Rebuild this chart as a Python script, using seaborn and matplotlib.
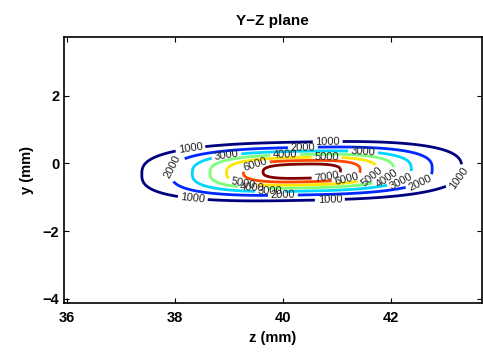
import numpy as np
import matplotlib
matplotlib.use("Agg")
import matplotlib.pyplot as plt
import seaborn as sns

# ---- values ----
levels = [1000, 2000, 3000, 4000, 5000, 6000, 7000]
peak_value = 7900.0          # field maximum (just above the 7000 contour)
z_center = 40.35             # mm
y_center = -0.23             # mm
z_width = 1.456              # mm, spread along z
y_width = 0.423              # mm, spread along y
shape_exp = 2.8              # flat-sided (superelliptic) contours
tilt = 0.03                  # slight slope of the major axis

x_ticks = [36, 38, 40, 42]
y_ticks = [-4, -2, 0, 2]
title_text = "Y\u2212Z plane"
x_label = "z (mm)"
y_label = "y (mm)"

# label spots (data coords) for each level, as in the reference
label_spots = {
    1000: [(38.28, 0.54), (40.83, 0.63), (43.24, -0.43), (38.33, -1.08), (40.87, -1.08)],
    2000: [(37.96, -0.11), (40.37, 0.48), (42.59, -0.79), (40.0, -0.94)],
    3000: [(38.96, 0.19), (41.48, 0.24), (42.22, -0.64), (39.76, -0.85)],
    4000: [(40.04, 0.24), (41.93, -0.49), (39.44, -0.73)],
    5000: [(40.81, 0.19), (41.61, -0.29), (39.26, -0.58)],
    6000: [(39.48, 0.01), (41.19, -0.55)],
    7000: [(40.81, -0.43)],
}

# ---- style ----
sns.set_theme(style="ticks")
plt.rcParams["font.family"] = ["Liberation Sans", "DejaVu Sans"]
plt.rcParams["axes.unicode_minus"] = True
plt.rcParams["text.color"] = "black"
plt.rcParams["axes.labelcolor"] = "black"
plt.rcParams["xtick.color"] = "black"
plt.rcParams["ytick.color"] = "black"

fig = plt.figure(figsize=(4.83, 3.54), dpi=100)
ax = fig.add_axes([0.1315, 0.1449, 0.8658, 0.7497])

# ---- field ----
zg = np.linspace(35.8, 43.9, 500)
yg = np.linspace(-4.3, 3.9, 400)
Z, Y = np.meshgrid(zg, yg)
dz = (Z - z_center) / z_width
dy = (Y - y_center - tilt * (Z - z_center)) / y_width
r = (np.abs(dz) ** shape_exp + np.abs(dy) ** shape_exp) ** (1.0 / shape_exp)
F = peak_value * np.exp(-0.5 * r ** 2)

cmap = plt.get_cmap("jet")
norm = plt.Normalize(min(levels), max(levels))
for lev in levels:
    cs = ax.contour(Z, Y, F, levels=[lev], colors=[cmap(norm(lev))], linewidths=2.0)
    ax.clabel(cs, manual=label_spots[lev], inline=True,
              inline_spacing=2, fontsize=8, colors="#222222", fmt="%d")

ax.set_xlim(35.94, 43.68)
ax.set_ylim(-4.11, 3.72)
ax.set_xticks(x_ticks)
ax.set_yticks(y_ticks)
ax.tick_params(axis="both", direction="in", length=3.5, width=0.8,
               top=True, right=True, labelsize=10.5, colors="black")
ax.tick_params(axis="x", pad=6)
ax.tick_params(axis="y", pad=3)
for lbl in ax.get_xticklabels() + ax.get_yticklabels():
    lbl.set_fontweight("bold")
for sp in ax.spines.values():
    sp.set_visible(True)
    sp.set_linewidth(1.2)
    sp.set_color("black")

ax.set_xlabel(x_label, fontsize=10.5, fontweight="bold", labelpad=4, color="black")
ax.set_ylabel(y_label, fontsize=10.5, fontweight="bold", labelpad=6, color="black")
ax.set_title(title_text, fontsize=11, fontweight="bold", pad=9, color="black")

fig.savefig("out.png", dpi=100)
